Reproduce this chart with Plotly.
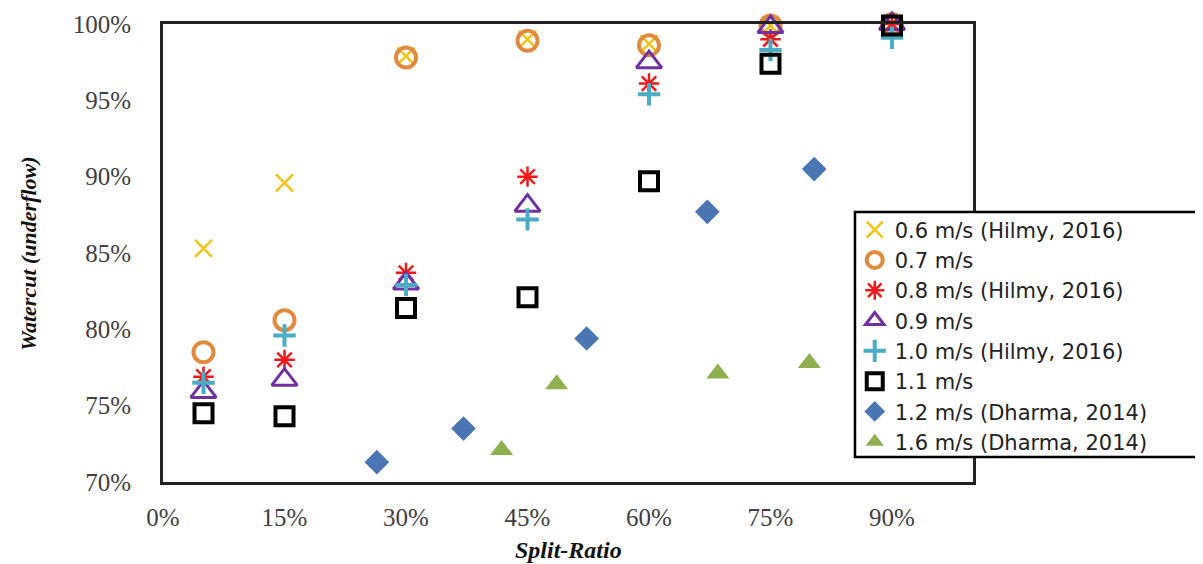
import plotly.graph_objects as go

split_std = [0.05, 0.15, 0.30, 0.45, 0.60, 0.75, 0.90]

wc_06 = [0.853, 0.896, 0.979, 0.990, 0.987, 0.999, 1.000]
wc_07 = [0.785, 0.806, 0.978, 0.989, 0.986, 0.999, 1.000]
wc_08 = [0.769, 0.780, 0.837, 0.900, 0.961, 0.990, 1.000]
wc_09 = [0.759, 0.767, 0.830, 0.881, 0.975, 0.998, 1.000]
wc_10 = [0.765, 0.796, 0.829, 0.872, 0.954, 0.983, 0.991]
wc_11 = [0.745, 0.743, 0.814, 0.821, 0.897, 0.974, 0.999]

split_12 = [0.264, 0.371, 0.523, 0.672, 0.804]
wc_12 = [0.713, 0.735, 0.794, 0.877, 0.905]

split_16 = [0.418, 0.486, 0.685, 0.798]
wc_16 = [0.721, 0.764, 0.771, 0.778]

names = ["0.6 m/s (Hilmy, 2016)", "0.7 m/s", "0.8 m/s (Hilmy, 2016)", "0.9 m/s",
         "1.0 m/s (Hilmy, 2016)", "1.1 m/s", "1.2 m/s (Dharma, 2014)", "1.6 m/s (Dharma, 2014)"]

x_ticks = [0, 0.15, 0.30, 0.45, 0.60, 0.75, 0.90]
y_ticks = [0.70, 0.75, 0.80, 0.85, 0.90, 0.95, 1.00]

fig = go.Figure()

styles = [
    (split_std, wc_06, dict(symbol="x-thin-open", size=17, color="#F2C314", line=dict(color="#F2C314", width=2.5))),
    (split_std, wc_07, dict(symbol="circle-open", size=20, color="#E08A3E", line=dict(color="#E08A3E", width=4))),
    (split_std, wc_08, dict(symbol="asterisk-open", size=17, color="#F01818", line=dict(color="#F01818", width=2.5))),
    (split_std, wc_09, dict(symbol="triangle-up-open", size=22, color="#7030A0", line=dict(color="#7030A0", width=3))),
    (split_std, wc_10, dict(symbol="cross-thin-open", size=16, color="#4BACC6", line=dict(color="#4BACC6", width=4))),
    (split_std, wc_11, dict(symbol="square-open", size=18, color="#000000", line=dict(color="#000000", width=4))),
    (split_12, wc_12, dict(symbol="diamond", size=19, color="#4A77B4", line=dict(width=0))),
    (split_16, wc_16, dict(symbol="triangle-up", size=20, color="#8EB04E", line=dict(width=0))),
]

for (xs, ys, mk), nm in zip(styles, names):
    fig.add_trace(go.Scatter(x=xs, y=ys, mode="markers", name=nm, marker=mk, cliponaxis=False))

serif = "Liberation Serif, Times New Roman, serif"
tick_font = dict(family=serif, size=25, color="#404040")

fig.update_layout(
    width=1195, height=556,
    margin=dict(l=155, r=230, t=16, b=82),
    paper_bgcolor="white", plot_bgcolor="white",
    xaxis=dict(range=[0, 1.0], tickvals=x_ticks, ticktext=[f"{round(v*100)}%" for v in x_ticks],
               showgrid=False, zeroline=False, showline=True, linecolor="#222222", linewidth=3,
               mirror=True, ticks="", tickfont=tick_font, ticklabelstandoff=11, automargin=False),
    yaxis=dict(range=[0.70, 1.00], tickvals=y_ticks, ticktext=[f"{round(v*100)}%" for v in y_ticks],
               showgrid=False, zeroline=False, showline=True, linecolor="#222222", linewidth=3,
               mirror=True, ticks="", tickfont=tick_font, ticklabelstandoff=24, automargin=False),
    legend=dict(x=0.854, y=0.595, xanchor="left", yanchor="top",
                bgcolor="rgba(0,0,0,0)", borderwidth=0,
                font=dict(family="DejaVu Sans, Noto Sans, sans-serif", size=21, color="#222222"),
                itemwidth=30, tracegroupgap=0),
    shapes=[dict(type="rect", xref="paper", yref="paper", x0=0.8543, x1=1.2785, y0=0.0546, y1=0.5895,
                 fillcolor="white", line=dict(color="#000000", width=2.5), layer="above")],
    annotations=[
        dict(text="<b><i>Watercut (underflow)</i></b>", xref="paper", yref="paper",
             x=-0.1667, y=0.5, xanchor="center", yanchor="middle", textangle=-90,
             showarrow=False, font=dict(family=serif, size=22, color="#111111")),
        dict(text="<b><i>Split-Ratio</i></b>", xref="paper", yref="paper",
             x=0.5, y=-0.1485, xanchor="center", yanchor="middle",
             showarrow=False, font=dict(family=serif, size=24, color="#111111")),
    ],
    showlegend=True,
)

fig.write_html("out.html")
